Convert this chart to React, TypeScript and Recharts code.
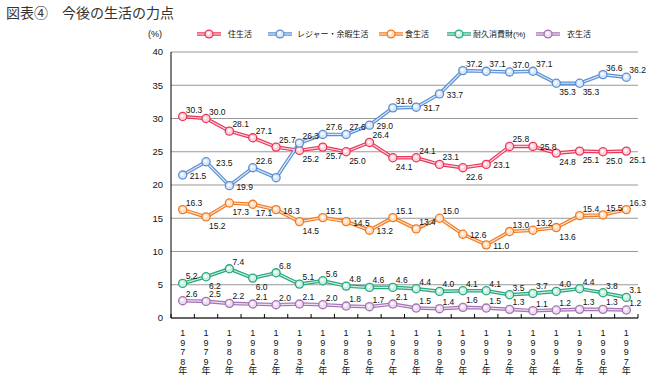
import { CartesianGrid, LabelList, Line, LineChart, XAxis, YAxis } from "recharts";

const years = [
  "1978", "1979", "1980", "1981", "1982", "1983", "1984", "1985", "1986", "1987",
  "1988", "1989", "1990", "1991", "1992", "1993", "1994", "1995", "1996", "1997",
];

const housing = [30.3, 30.0, 28.1, 27.1, 25.7, 25.2, 25.7, 25.0, 26.4, 24.1, 24.1, 23.1, 22.6, 23.1, 25.8, 25.8, 24.8, 25.1, 25.0, 25.1];
const leisure = [21.5, 23.5, 19.9, 22.6, 21.1, 26.3, 27.6, 27.6, 29.0, 31.6, 31.7, 33.7, 37.2, 37.1, 37.0, 37.1, 35.3, 35.3, 36.6, 36.2];
const food = [16.3, 15.2, 17.3, 17.1, 16.3, 14.5, 15.1, 14.5, 13.2, 15.1, 13.4, 15.0, 12.6, 11.0, 13.0, 13.2, 13.6, 15.4, 15.5, 16.3];
const durables = [5.2, 6.2, 7.4, 6.0, 6.8, 5.1, 5.6, 4.8, 4.6, 4.6, 4.4, 4.0, 4.1, 4.1, 3.5, 3.7, 4.0, 4.4, 3.8, 3.1];
const clothing = [2.6, 2.5, 2.2, 2.1, 2.0, 2.1, 2.0, 1.8, 1.7, 2.1, 1.5, 1.4, 1.6, 1.5, 1.3, 1.1, 1.2, 1.3, 1.3, 1.2];

const yTicks = [0, 5, 10, 15, 20, 25, 30, 35, 40];

const W = 648;
const H = 376;
const PLOT_LEFT = 171;
const PLOT_RIGHT = 638;
const BAND = (PLOT_RIGHT - PLOT_LEFT) / years.length;
const FONT = "'Liberation Sans', 'Noto Sans CJK JP', sans-serif";

// label placement: a = above right, b = below right, r = right, R = far right, n = none
const series = [
  { key: "housing", name: "住生活", color: "#e8385a", light: "#ffd3dc", place: "aaaaabbbabaabrarbbbb", legendX: 197, textX: 228 },
  { key: "leisure", name: "レジャー・余暇生活", color: "#5b8fd2", light: "#dbe8fb", place: "rRranaaararraaaabbaa", legendX: 268, textX: 297 },
  { key: "food", name: "食生活", color: "#f07a22", light: "#ffe0c4", place: "abbbrbarraaarraabaaa", legendX: 379, textX: 405 },
  { key: "durables", name: "耐久消費財(%)", color: "#26a87e", light: "#cdf1e3", place: "ababaaaaaaaaaaaaaaaa", legendX: 447, textX: 473 },
  { key: "clothing", name: "衣生活", color: "#a474b2", light: "#eedcf3", place: "aaaaaaaaaaaaaaaaaaaa", legendX: 536, textX: 567 },
];

const chartData = years.map((year, i) => ({
  year,
  housing: housing[i],
  leisure: leisure[i],
  food: food[i],
  durables: durables[i],
  clothing: clothing[i],
}));

function YearTick(props: any) {
  const { x, y, payload, index } = props;
  const chars = [...String(payload.value), "年"];
  return (
    <g>
      <line x1={x - BAND / 2} x2={x - BAND / 2} y1={y} y2={y - 4} stroke="#000" />
      {index === years.length - 1 && (
        <line x1={x + BAND / 2} x2={x + BAND / 2} y1={y} y2={y - 4} stroke="#000" />
      )}
      <text textAnchor="middle" fontSize={9} fill="#111" fontFamily={FONT}>
        {chars.map((c, i) => (
          <tspan key={i} x={x} y={y + 18 + i * 9.5}>
            {c}
          </tspan>
        ))}
      </text>
    </g>
  );
}

function makeDot(color: string, light: string) {
  return (props: any) => {
    const { cx, cy, index } = props;
    if (cx == null || cy == null) return <g key={index} />;
    return (
      <g key={index}>
        <circle cx={cx} cy={cy} r={4.7} fill={color} />
        <circle cx={cx} cy={cy} r={3.4} fill={light} />
        <circle cx={cx - 0.6} cy={cy - 0.6} r={1.4} fill="#fff" />
      </g>
    );
  };
}

function makeLabel(place: string) {
  return (props: any) => {
    const { x, y, value, index } = props;
    const mode = place[index];
    if (value == null || mode === "n") return null;
    let tx = x + 3;
    let ty = y - 4;
    if (mode === "b") ty = y + 12;
    if (mode === "r" || mode === "R") {
      tx = x + (mode === "R" ? 10 : 7);
      ty = y + 4;
    }
    return (
      <text key={index} x={tx} y={ty} fontSize={8.5} fill="#111" fontFamily={FONT}>
        {Number(value).toFixed(1)}
      </text>
    );
  };
}

function LegendRow() {
  return (
    <svg width={W} height={16} style={{ position: "absolute", left: 0, top: 26 }}>
      {series.map((s) => (
        <g key={s.key}>
          <line x1={s.legendX} x2={s.legendX + 24} y1={8} y2={8} stroke={s.color} strokeWidth={3.5} />
          <line x1={s.legendX} x2={s.legendX + 24} y1={8} y2={8} stroke={s.light} strokeWidth={1.2} />
          <circle cx={s.legendX + 12} cy={8} r={4.6} fill={s.color} />
          <circle cx={s.legendX + 12} cy={8} r={3.3} fill={s.light} />
          <circle cx={s.legendX + 11.4} cy={7.4} r={1.4} fill="#fff" />
          <text x={s.textX} y={11} fontSize={8} fill="#111" fontFamily={FONT}>
            {s.name}
          </text>
        </g>
      ))}
    </svg>
  );
}

export default function App() {
  return (
    <div style={{ position: "absolute", left: 0, top: 0, width: W, height: H, background: "#fff", fontFamily: FONT }}>
      <div style={{ position: "absolute", left: 6, top: 5, fontSize: 14, lineHeight: "16px", color: "#333", whiteSpace: "nowrap" }}>
        図表④　今後の生活の力点
      </div>
      <div style={{ position: "absolute", left: 148, top: 29, fontSize: 9, color: "#111" }}>(%)</div>
      <LineChart width={W} height={H} data={chartData} margin={{ top: 52, right: W - PLOT_RIGHT, bottom: 8, left: PLOT_LEFT - 30 }}>
        <CartesianGrid vertical={false} stroke="#999" />
        <XAxis
          dataKey="year"
          stroke="#000"
          tickLine={false}
          tickSize={0}
          tickMargin={0}
          height={50}
          interval={0}
          padding={{ left: BAND / 2, right: BAND / 2 }}
          tick={<YearTick />}
        />
        <YAxis
          domain={[0, 40]}
          ticks={yTicks}
          stroke="#000"
          tickLine={false}
          tickSize={0}
          tickMargin={8}
          width={30}
          tick={{ fontSize: 9.5, fill: "#111", fontFamily: FONT }}
        />
        {series.map((s) => (
          <Line
            key={s.key + "-outer"}
            dataKey={s.key}
            name={s.name}
            stroke={s.color}
            strokeWidth={3.6}
            dot={false}
            activeDot={false}
            legendType="none"
            isAnimationActive={false}
          />
        ))}
        {series.map((s) => (
          <Line
            key={s.key + "-inner"}
            dataKey={s.key}
            name={s.name}
            stroke={s.light}
            strokeWidth={1.2}
            dot={makeDot(s.color, s.light)}
            activeDot={false}
            legendType="none"
            isAnimationActive={false}
          >
            <LabelList dataKey={s.key} content={makeLabel(s.place)} />
          </Line>
        ))}
      </LineChart>
      <LegendRow />
    </div>
  );
}
